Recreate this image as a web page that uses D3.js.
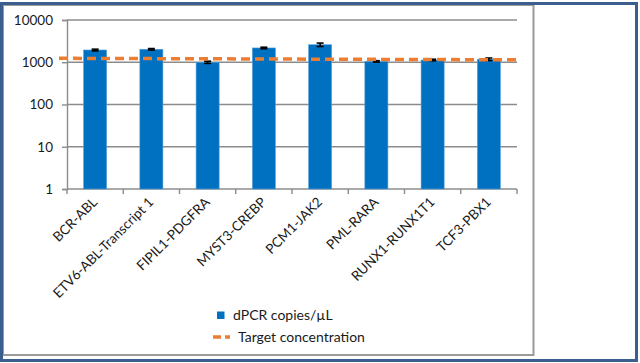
<!DOCTYPE html>
<html>
<head>
<meta charset="utf-8">
<script src="https://cdn.jsdelivr.net/npm/d3@7"></script>
<style>
  body { margin: 0; background: #fff; }
  svg text { font-family: Lato, "Open Sans", sans-serif; fill: #1a1a1a; }
</style>
</head>
<body>
<script>
// data
var categories = ["BCR-ABL", "ETV6-ABL-Transcript 1", "FIPIL1-PDGFRA", "MYST3-CREBP",
                  "PCM1-JAK2", "PML-RARA", "RUNX1-RUNX1T1", "TCF3-PBX1"];
var copies = [1950, 2030, 1000, 2180, 2600, 1050, 1130, 1180];
var copiesErr = [90, 80, 60, 90, 240, 40, 50, 80];
var target = [1240, 1140];   // dashed line, left end and right end
var yTicks = [1, 10, 100, 1000, 10000];
var seriesNames = ["dPCR copies/\u00b5L", "Target concentration"];

var W = 640, H = 363;
var margin = {top: 20, left: 67};
var plotW = 450, plotH = 169;

var svg = d3.select("body").append("svg")
    .attr("width", W)
    .attr("height", H);

// frames
svg.append("rect")
    .attr("x", 3).attr("y", 5)
    .attr("width", 530.5).attr("height", 350)
    .attr("fill", "none")
    .attr("stroke", "#9a9a9a")
    .attr("stroke-width", 2);

svg.append("rect")
    .attr("x", 1.5).attr("y", 3.5)
    .attr("width", 635).attr("height", 357)
    .attr("fill", "none")
    .attr("stroke", "#3a5f8f")
    .attr("stroke-width", 3);

var g = svg.append("g")
    .attr("transform", "translate(" + margin.left + "," + margin.top + ")");

var x = d3.scaleBand()
    .domain(categories)
    .range([0, plotW])
    .paddingInner(0.59)
    .paddingOuter(0.295);

var y = d3.scaleLog()
    .domain([1, 10000])
    .range([plotH, 0]);

// gridlines
g.selectAll(".grid")
    .data(yTicks.slice(1))
    .enter().append("line")
    .attr("class", "grid")
    .attr("x1", 0).attr("x2", plotW)
    .attr("y1", function(d) { return y(d); })
    .attr("y2", function(d) { return y(d); })
    .attr("stroke", "#8c8c8c")
    .attr("stroke-width", 1.4);

// left axis
var yAxis = d3.axisLeft(y)
    .tickValues(yTicks)
    .tickFormat(d3.format("d"))
    .tickSize(5)
    .tickPadding(9);

g.append("g")
    .attr("class", "y axis")
    .call(yAxis)
    .call(function(s) {
      s.select(".domain").attr("stroke", "#8c8c8c").attr("stroke-width", 1.4);
      s.selectAll(".tick line").attr("stroke", "#8c8c8c").attr("stroke-width", 1.4);
      s.selectAll("text").style("font-size", "13.5px").attr("fill", "#1a1a1a");
    });

// bottom axis, ticks on band edges
var xAxisG = g.append("g")
    .attr("transform", "translate(0," + plotH + ")");

xAxisG.append("line")
    .attr("x1", 0).attr("x2", plotW)
    .attr("stroke", "#8c8c8c").attr("stroke-width", 1.4);

xAxisG.selectAll(".xtick")
    .data(d3.range(categories.length + 1))
    .enter().append("line")
    .attr("class", "xtick")
    .attr("x1", function(i) { return i * x.step(); })
    .attr("x2", function(i) { return i * x.step(); })
    .attr("y1", 0).attr("y2", 5)
    .attr("stroke", "#8c8c8c").attr("stroke-width", 1.4);

xAxisG.selectAll(".xlabel")
    .data(categories)
    .enter().append("text")
    .attr("class", "xlabel")
    .attr("transform", function(d) {
      return "translate(" + (x(d) + x.bandwidth() / 2 + 3) + ",14) rotate(-45)";
    })
    .style("text-anchor", "end")
    .style("font-size", "13.5px")
    .text(function(d) { return d; });

// bars
g.selectAll(".bar")
    .data(copies)
    .enter().append("rect")
    .attr("class", "bar")
    .attr("x", function(d, i) { return x(categories[i]); })
    .attr("y", function(d) { return y(d); })
    .attr("width", x.bandwidth())
    .attr("height", function(d) { return plotH - y(d); })
    .attr("fill", "#0070c0")
    .attr("stroke", "#5aa0d8")
    .attr("stroke-width", 0.6);

// error bars
var errG = g.selectAll(".err")
    .data(copies)
    .enter().append("g")
    .attr("class", "err");

errG.append("line")
    .attr("x1", function(d, i) { return x(categories[i]) + x.bandwidth() / 2; })
    .attr("x2", function(d, i) { return x(categories[i]) + x.bandwidth() / 2; })
    .attr("y1", function(d, i) { return y(d + copiesErr[i]); })
    .attr("y2", function(d, i) { return y(d - copiesErr[i]); })
    .attr("stroke", "#000").attr("stroke-width", 1.5);

[1, -1].forEach(function(sign) {
  errG.append("line")
    .attr("x1", function(d, i) { return x(categories[i]) + x.bandwidth() / 2 - 3.5; })
    .attr("x2", function(d, i) { return x(categories[i]) + x.bandwidth() / 2 + 3.5; })
    .attr("y1", function(d, i) { return y(d + sign * copiesErr[i]); })
    .attr("y2", function(d, i) { return y(d + sign * copiesErr[i]); })
    .attr("stroke", "#000").attr("stroke-width", 1.6);
});

// target concentration dashed line
g.append("line")
    .attr("x1", -8).attr("x2", plotW + 3)
    .attr("y1", y(target[0]))
    .attr("y2", y(target[1]))
    .attr("stroke", "#ed7d31")
    .attr("stroke-width", 3.5)
    .attr("stroke-dasharray", "9,5");

// legend
var legend = svg.append("g");

legend.append("rect")
    .attr("x", 217).attr("y", 311.5)
    .attr("width", 7.5).attr("height", 7.5)
    .attr("fill", "#0070c0");

legend.append("text")
    .attr("x", 233).attr("y", 320)
    .style("font-size", "14px")
    .text(seriesNames[0]);

legend.append("line")
    .attr("x1", 213).attr("x2", 230)
    .attr("y1", 337).attr("y2", 337)
    .attr("stroke", "#ed7d31")
    .attr("stroke-width", 3.5)
    .attr("stroke-dasharray", "8,4");

legend.append("text")
    .attr("x", 238).attr("y", 342)
    .style("font-size", "14px")
    .text(seriesNames[1]);
</script>
</body>
</html>
